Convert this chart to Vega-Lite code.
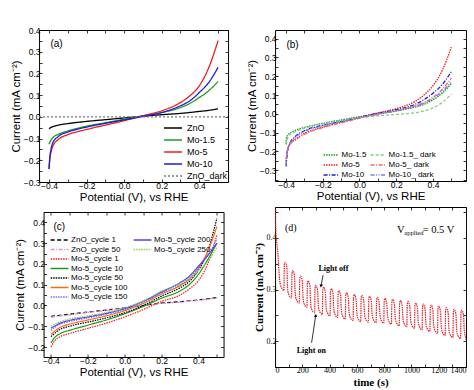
{
"$schema":"https://vega.github.io/schema/vega-lite/v6.json",
"padding":{"left":9,"top":25,"right":0,"bottom":0},
"background":"white",
"config":{
 "view":{"stroke":"#000","strokeWidth":1},
 "axis":{"domain":false,"grid":false,"tickSize":-3,"tickColor":"#000","tickWidth":0.8,"labelFont":"Liberation Sans","labelFontSize":8.5,"labelColor":"#000","labelPadding":2,"titleFont":"Liberation Sans","titleFontSize":11.5,"titleFontWeight":"normal","titleColor":"#000","titlePadding":2,"labelOverlap":false,"minExtent":0},
 "legend":{"orient":"none","title":null,"symbolType":"M-1.8,0H1.8","symbolSize":100,"symbolStrokeWidth":1.4,"labelFont":"Liberation Sans","labelFontSize":9,"labelColor":"#000","rowPadding":1,"labelOffset":8,"direction":"vertical","padding":0}
},
"resolve":{"scale":{"color":"independent","strokeDash":"independent"},"legend":{"color":"independent","strokeDash":"independent"}},
"datasets":{
 "a":[
  {"s":"ZnO","x":-0.4,"y":-0.054},{"s":"ZnO","x":-0.38,"y":-0.045},{"s":"ZnO","x":-0.35,"y":-0.038},{"s":"ZnO","x":-0.3,"y":-0.031},{"s":"ZnO","x":-0.2,"y":-0.021},{"s":"ZnO","x":-0.1,"y":-0.013},{"s":"ZnO","x":0,"y":-0.005},{"s":"ZnO","x":0.1,"y":0.003},{"s":"ZnO","x":0.2,"y":0.01},{"s":"ZnO","x":0.3,"y":0.016},{"s":"ZnO","x":0.4,"y":0.025},{"s":"ZnO","x":0.45,"y":0.03},{"s":"ZnO","x":0.5,"y":0.037},
  {"s":"Mo-1.5","x":-0.4,"y":-0.126},{"s":"Mo-1.5","x":-0.39,"y":-0.108},{"s":"Mo-1.5","x":-0.38,"y":-0.096},{"s":"Mo-1.5","x":-0.35,"y":-0.08},{"s":"Mo-1.5","x":-0.3,"y":-0.065},{"s":"Mo-1.5","x":-0.2,"y":-0.043},{"s":"Mo-1.5","x":-0.1,"y":-0.027},{"s":"Mo-1.5","x":0,"y":-0.011},{"s":"Mo-1.5","x":0.1,"y":0.005},{"s":"Mo-1.5","x":0.2,"y":0.02},{"s":"Mo-1.5","x":0.3,"y":0.043},{"s":"Mo-1.5","x":0.35,"y":0.062},{"s":"Mo-1.5","x":0.4,"y":0.089},{"s":"Mo-1.5","x":0.45,"y":0.12},{"s":"Mo-1.5","x":0.5,"y":0.163},
  {"s":"Mo-5","x":-0.4,"y":-0.24},{"s":"Mo-5","x":-0.395,"y":-0.19},{"s":"Mo-5","x":-0.39,"y":-0.165},{"s":"Mo-5","x":-0.38,"y":-0.136},{"s":"Mo-5","x":-0.35,"y":-0.104},{"s":"Mo-5","x":-0.3,"y":-0.082},{"s":"Mo-5","x":-0.2,"y":-0.058},{"s":"Mo-5","x":-0.1,"y":-0.038},{"s":"Mo-5","x":0,"y":-0.018},{"s":"Mo-5","x":0.1,"y":0.005},{"s":"Mo-5","x":0.2,"y":0.028},{"s":"Mo-5","x":0.3,"y":0.066},{"s":"Mo-5","x":0.35,"y":0.097},{"s":"Mo-5","x":0.4,"y":0.143},{"s":"Mo-5","x":0.45,"y":0.226},{"s":"Mo-5","x":0.5,"y":0.351},
  {"s":"Mo-10","x":-0.4,"y":-0.24},{"s":"Mo-10","x":-0.395,"y":-0.18},{"s":"Mo-10","x":-0.39,"y":-0.152},{"s":"Mo-10","x":-0.38,"y":-0.12},{"s":"Mo-10","x":-0.35,"y":-0.09},{"s":"Mo-10","x":-0.3,"y":-0.07},{"s":"Mo-10","x":-0.2,"y":-0.047},{"s":"Mo-10","x":-0.1,"y":-0.03},{"s":"Mo-10","x":0,"y":-0.014},{"s":"Mo-10","x":0.1,"y":0.002},{"s":"Mo-10","x":0.2,"y":0.02},{"s":"Mo-10","x":0.3,"y":0.051},{"s":"Mo-10","x":0.35,"y":0.074},{"s":"Mo-10","x":0.4,"y":0.112},{"s":"Mo-10","x":0.45,"y":0.158},{"s":"Mo-10","x":0.5,"y":0.228},
  {"s":"ZnO_dark","x":-0.453,"y":0},{"s":"ZnO_dark","x":0.553,"y":0}
 ],
 "b":[
  {"s":"Mo-1.5","x":-0.4,"y":-0.16},{"s":"Mo-1.5","x":-0.398,"y":-0.13},{"s":"Mo-1.5","x":-0.39,"y":-0.112},{"s":"Mo-1.5","x":-0.38,"y":-0.103},{"s":"Mo-1.5","x":-0.35,"y":-0.088},{"s":"Mo-1.5","x":-0.3,"y":-0.072},{"s":"Mo-1.5","x":-0.2,"y":-0.05},{"s":"Mo-1.5","x":-0.1,"y":-0.032},{"s":"Mo-1.5","x":0,"y":-0.015},{"s":"Mo-1.5","x":0.1,"y":0},{"s":"Mo-1.5","x":0.2,"y":0.015},{"s":"Mo-1.5","x":0.3,"y":0.035},{"s":"Mo-1.5","x":0.35,"y":0.05},{"s":"Mo-1.5","x":0.4,"y":0.075},{"s":"Mo-1.5","x":0.45,"y":0.11},{"s":"Mo-1.5","x":0.5,"y":0.16},
  {"s":"Mo-5","x":-0.4,"y":-0.255},{"s":"Mo-5","x":-0.395,"y":-0.205},{"s":"Mo-5","x":-0.39,"y":-0.18},{"s":"Mo-5","x":-0.38,"y":-0.162},{"s":"Mo-5","x":-0.35,"y":-0.135},{"s":"Mo-5","x":-0.3,"y":-0.105},{"s":"Mo-5","x":-0.2,"y":-0.07},{"s":"Mo-5","x":-0.1,"y":-0.045},{"s":"Mo-5","x":0,"y":-0.02},{"s":"Mo-5","x":0.1,"y":0.005},{"s":"Mo-5","x":0.2,"y":0.028},{"s":"Mo-5","x":0.3,"y":0.065},{"s":"Mo-5","x":0.35,"y":0.1},{"s":"Mo-5","x":0.4,"y":0.15},{"s":"Mo-5","x":0.45,"y":0.23},{"s":"Mo-5","x":0.5,"y":0.355},
  {"s":"Mo-10","x":-0.4,"y":-0.28},{"s":"Mo-10","x":-0.395,"y":-0.225},{"s":"Mo-10","x":-0.39,"y":-0.19},{"s":"Mo-10","x":-0.38,"y":-0.16},{"s":"Mo-10","x":-0.35,"y":-0.12},{"s":"Mo-10","x":-0.3,"y":-0.09},{"s":"Mo-10","x":-0.2,"y":-0.06},{"s":"Mo-10","x":-0.1,"y":-0.04},{"s":"Mo-10","x":0,"y":-0.018},{"s":"Mo-10","x":0.1,"y":0.003},{"s":"Mo-10","x":0.2,"y":0.022},{"s":"Mo-10","x":0.3,"y":0.05},{"s":"Mo-10","x":0.35,"y":0.075},{"s":"Mo-10","x":0.4,"y":0.11},{"s":"Mo-10","x":0.45,"y":0.155},{"s":"Mo-10","x":0.5,"y":0.225},
  {"s":"Mo-1.5_ dark","x":-0.4,"y":-0.165},{"s":"Mo-1.5_ dark","x":-0.39,"y":-0.125},{"s":"Mo-1.5_ dark","x":-0.38,"y":-0.11},{"s":"Mo-1.5_ dark","x":-0.35,"y":-0.095},{"s":"Mo-1.5_ dark","x":-0.3,"y":-0.077},{"s":"Mo-1.5_ dark","x":-0.2,"y":-0.053},{"s":"Mo-1.5_ dark","x":-0.1,"y":-0.036},{"s":"Mo-1.5_ dark","x":0,"y":-0.02},{"s":"Mo-1.5_ dark","x":0.1,"y":-0.01},{"s":"Mo-1.5_ dark","x":0.2,"y":-0.003},{"s":"Mo-1.5_ dark","x":0.3,"y":0.006},{"s":"Mo-1.5_ dark","x":0.35,"y":0.015},{"s":"Mo-1.5_ dark","x":0.4,"y":0.032},{"s":"Mo-1.5_ dark","x":0.45,"y":0.06},{"s":"Mo-1.5_ dark","x":0.5,"y":0.105},
  {"s":"Mo-5_ dark","x":-0.4,"y":-0.24},{"s":"Mo-5_ dark","x":-0.39,"y":-0.185},{"s":"Mo-5_ dark","x":-0.38,"y":-0.165},{"s":"Mo-5_ dark","x":-0.35,"y":-0.14},{"s":"Mo-5_ dark","x":-0.3,"y":-0.108},{"s":"Mo-5_ dark","x":-0.2,"y":-0.073},{"s":"Mo-5_ dark","x":-0.1,"y":-0.048},{"s":"Mo-5_ dark","x":0,"y":-0.024},{"s":"Mo-5_ dark","x":0.1,"y":-0.002},{"s":"Mo-5_ dark","x":0.2,"y":0.017},{"s":"Mo-5_ dark","x":0.3,"y":0.042},{"s":"Mo-5_ dark","x":0.35,"y":0.06},{"s":"Mo-5_ dark","x":0.4,"y":0.088},{"s":"Mo-5_ dark","x":0.45,"y":0.13},{"s":"Mo-5_ dark","x":0.5,"y":0.19},
  {"s":"Mo-10_ dark","x":-0.4,"y":-0.27},{"s":"Mo-10_ dark","x":-0.395,"y":-0.21},{"s":"Mo-10_ dark","x":-0.39,"y":-0.18},{"s":"Mo-10_ dark","x":-0.38,"y":-0.158},{"s":"Mo-10_ dark","x":-0.35,"y":-0.125},{"s":"Mo-10_ dark","x":-0.3,"y":-0.094},{"s":"Mo-10_ dark","x":-0.2,"y":-0.063},{"s":"Mo-10_ dark","x":-0.1,"y":-0.041},{"s":"Mo-10_ dark","x":0,"y":-0.02},{"s":"Mo-10_ dark","x":0.1,"y":0},{"s":"Mo-10_ dark","x":0.2,"y":0.017},{"s":"Mo-10_ dark","x":0.3,"y":0.04},{"s":"Mo-10_ dark","x":0.35,"y":0.057},{"s":"Mo-10_ dark","x":0.4,"y":0.083},{"s":"Mo-10_ dark","x":0.45,"y":0.12},{"s":"Mo-10_ dark","x":0.5,"y":0.17}
 ],
 "c":[
  {"s":"ZnO_cycle 1","x":-0.4,"y":-0.052},{"s":"ZnO_cycle 1","x":-0.3,"y":-0.042},{"s":"ZnO_cycle 1","x":-0.2,"y":-0.032},{"s":"ZnO_cycle 1","x":-0.1,"y":-0.022},{"s":"ZnO_cycle 1","x":0,"y":-0.011},{"s":"ZnO_cycle 1","x":0.1,"y":0},{"s":"ZnO_cycle 1","x":0.2,"y":0.012},{"s":"ZnO_cycle 1","x":0.3,"y":0.018},{"s":"ZnO_cycle 1","x":0.4,"y":0.027},{"s":"ZnO_cycle 1","x":0.5,"y":0.038},
  {"s":"ZnO_cycle 50","x":-0.4,"y":-0.056},{"s":"ZnO_cycle 50","x":-0.3,"y":-0.045},{"s":"ZnO_cycle 50","x":-0.2,"y":-0.034},{"s":"ZnO_cycle 50","x":-0.1,"y":-0.024},{"s":"ZnO_cycle 50","x":0,"y":-0.013},{"s":"ZnO_cycle 50","x":0.1,"y":-0.002},{"s":"ZnO_cycle 50","x":0.2,"y":0.01},{"s":"ZnO_cycle 50","x":0.3,"y":0.016},{"s":"ZnO_cycle 50","x":0.4,"y":0.025},{"s":"ZnO_cycle 50","x":0.5,"y":0.036},
  {"s":"Mo-5_cycle 1","x":-0.4,"y":-0.2},{"s":"Mo-5_cycle 1","x":-0.38,"y":-0.17},{"s":"Mo-5_cycle 1","x":-0.35,"y":-0.15},{"s":"Mo-5_cycle 1","x":-0.3,"y":-0.135},{"s":"Mo-5_cycle 1","x":-0.2,"y":-0.11},{"s":"Mo-5_cycle 1","x":-0.1,"y":-0.085},{"s":"Mo-5_cycle 1","x":0,"y":-0.055},{"s":"Mo-5_cycle 1","x":0.1,"y":-0.02},{"s":"Mo-5_cycle 1","x":0.2,"y":0.02},{"s":"Mo-5_cycle 1","x":0.3,"y":0.05},{"s":"Mo-5_cycle 1","x":0.35,"y":0.08},{"s":"Mo-5_cycle 1","x":0.4,"y":0.12},{"s":"Mo-5_cycle 1","x":0.45,"y":0.2},{"s":"Mo-5_cycle 1","x":0.5,"y":0.34},
  {"s":"Mo-5_cycle 10","x":-0.4,"y":-0.18},{"s":"Mo-5_cycle 10","x":-0.38,"y":-0.155},{"s":"Mo-5_cycle 10","x":-0.35,"y":-0.135},{"s":"Mo-5_cycle 10","x":-0.3,"y":-0.12},{"s":"Mo-5_cycle 10","x":-0.2,"y":-0.095},{"s":"Mo-5_cycle 10","x":-0.1,"y":-0.07},{"s":"Mo-5_cycle 10","x":0,"y":-0.04},{"s":"Mo-5_cycle 10","x":0.1,"y":-0.005},{"s":"Mo-5_cycle 10","x":0.2,"y":0.035},{"s":"Mo-5_cycle 10","x":0.3,"y":0.07},{"s":"Mo-5_cycle 10","x":0.35,"y":0.1},{"s":"Mo-5_cycle 10","x":0.4,"y":0.15},{"s":"Mo-5_cycle 10","x":0.45,"y":0.22},{"s":"Mo-5_cycle 10","x":0.5,"y":0.3},
  {"s":"Mo-5_cycle 50","x":-0.4,"y":-0.15},{"s":"Mo-5_cycle 50","x":-0.35,"y":-0.115},{"s":"Mo-5_cycle 50","x":-0.3,"y":-0.1},{"s":"Mo-5_cycle 50","x":-0.2,"y":-0.08},{"s":"Mo-5_cycle 50","x":-0.1,"y":-0.06},{"s":"Mo-5_cycle 50","x":0,"y":-0.035},{"s":"Mo-5_cycle 50","x":0.1,"y":0},{"s":"Mo-5_cycle 50","x":0.2,"y":0.045},{"s":"Mo-5_cycle 50","x":0.3,"y":0.085},{"s":"Mo-5_cycle 50","x":0.35,"y":0.115},{"s":"Mo-5_cycle 50","x":0.4,"y":0.17},{"s":"Mo-5_cycle 50","x":0.45,"y":0.26},{"s":"Mo-5_cycle 50","x":0.5,"y":0.42},
  {"s":"Mo-5_cycle 100","x":-0.4,"y":-0.14},{"s":"Mo-5_cycle 100","x":-0.35,"y":-0.105},{"s":"Mo-5_cycle 100","x":-0.3,"y":-0.09},{"s":"Mo-5_cycle 100","x":-0.2,"y":-0.07},{"s":"Mo-5_cycle 100","x":-0.1,"y":-0.05},{"s":"Mo-5_cycle 100","x":0,"y":-0.025},{"s":"Mo-5_cycle 100","x":0.1,"y":0.01},{"s":"Mo-5_cycle 100","x":0.2,"y":0.055},{"s":"Mo-5_cycle 100","x":0.3,"y":0.095},{"s":"Mo-5_cycle 100","x":0.35,"y":0.125},{"s":"Mo-5_cycle 100","x":0.4,"y":0.18},{"s":"Mo-5_cycle 100","x":0.45,"y":0.26},{"s":"Mo-5_cycle 100","x":0.5,"y":0.38},
  {"s":"Mo-5_cycle 150","x":-0.4,"y":-0.12},{"s":"Mo-5_cycle 150","x":-0.35,"y":-0.09},{"s":"Mo-5_cycle 150","x":-0.3,"y":-0.078},{"s":"Mo-5_cycle 150","x":-0.2,"y":-0.06},{"s":"Mo-5_cycle 150","x":-0.1,"y":-0.042},{"s":"Mo-5_cycle 150","x":0,"y":-0.02},{"s":"Mo-5_cycle 150","x":0.1,"y":0.015},{"s":"Mo-5_cycle 150","x":0.2,"y":0.06},{"s":"Mo-5_cycle 150","x":0.3,"y":0.1},{"s":"Mo-5_cycle 150","x":0.35,"y":0.13},{"s":"Mo-5_cycle 150","x":0.4,"y":0.18},{"s":"Mo-5_cycle 150","x":0.45,"y":0.24},{"s":"Mo-5_cycle 150","x":0.5,"y":0.32},
  {"s":"Mo-5_cycle 200","x":-0.4,"y":-0.11},{"s":"Mo-5_cycle 200","x":-0.35,"y":-0.085},{"s":"Mo-5_cycle 200","x":-0.3,"y":-0.072},{"s":"Mo-5_cycle 200","x":-0.2,"y":-0.055},{"s":"Mo-5_cycle 200","x":-0.1,"y":-0.038},{"s":"Mo-5_cycle 200","x":0,"y":-0.015},{"s":"Mo-5_cycle 200","x":0.1,"y":0.02},{"s":"Mo-5_cycle 200","x":0.2,"y":0.065},{"s":"Mo-5_cycle 200","x":0.3,"y":0.11},{"s":"Mo-5_cycle 200","x":0.35,"y":0.14},{"s":"Mo-5_cycle 200","x":0.4,"y":0.19},{"s":"Mo-5_cycle 200","x":0.45,"y":0.24},{"s":"Mo-5_cycle 200","x":0.5,"y":0.3},
  {"s":"Mo-5_cycle 250","x":-0.4,"y":-0.1},{"s":"Mo-5_cycle 250","x":-0.35,"y":-0.078},{"s":"Mo-5_cycle 250","x":-0.3,"y":-0.065},{"s":"Mo-5_cycle 250","x":-0.2,"y":-0.05},{"s":"Mo-5_cycle 250","x":-0.1,"y":-0.033},{"s":"Mo-5_cycle 250","x":0,"y":-0.01},{"s":"Mo-5_cycle 250","x":0.1,"y":0.022},{"s":"Mo-5_cycle 250","x":0.2,"y":0.07},{"s":"Mo-5_cycle 250","x":0.3,"y":0.105},{"s":"Mo-5_cycle 250","x":0.35,"y":0.13},{"s":"Mo-5_cycle 250","x":0.4,"y":0.17},{"s":"Mo-5_cycle 250","x":0.45,"y":0.21},{"s":"Mo-5_cycle 250","x":0.5,"y":0.28}
 ],
 "d":[
  {"t":0,"v":0.455},{"t":3,"v":0.43},{"t":7,"v":0.405},{"t":12,"v":0.392},{"t":20,"v":0.372},{"t":27,"v":0.343},{"t":33,"v":0.32},{"t":40,"v":0.309},{"t":50,"v":0.302},{"t":65,"v":0.298},
  {"t":68,"v":0.347},{"t":73,"v":0.353},{"t":87,"v":0.343},{"t":91,"v":0.306},{"t":98,"v":0.292},{"t":121,"v":0.284},
  {"t":124,"v":0.331},{"t":129,"v":0.337},{"t":143,"v":0.327},{"t":147,"v":0.296},{"t":154,"v":0.282},{"t":178,"v":0.274},
  {"t":181,"v":0.32},{"t":186,"v":0.326},{"t":200,"v":0.316},{"t":204,"v":0.288},{"t":211,"v":0.274},{"t":234,"v":0.266},
  {"t":237,"v":0.311},{"t":242,"v":0.317},{"t":256,"v":0.307},{"t":260,"v":0.277},{"t":267,"v":0.263},{"t":290,"v":0.255},
  {"t":293,"v":0.302},{"t":298,"v":0.308},{"t":312,"v":0.298},{"t":316,"v":0.274},{"t":323,"v":0.26},{"t":347,"v":0.252},
  {"t":350,"v":0.299},{"t":355,"v":0.305},{"t":369,"v":0.295},{"t":373,"v":0.271},{"t":380,"v":0.257},{"t":403,"v":0.249},
  {"t":406,"v":0.296},{"t":411,"v":0.302},{"t":425,"v":0.292},{"t":429,"v":0.268},{"t":436,"v":0.254},{"t":459,"v":0.246},
  {"t":462,"v":0.292},{"t":467,"v":0.298},{"t":481,"v":0.288},{"t":485,"v":0.265},{"t":492,"v":0.251},{"t":515,"v":0.243},
  {"t":518,"v":0.288},{"t":523,"v":0.294},{"t":537,"v":0.284},{"t":541,"v":0.262},{"t":548,"v":0.248},{"t":572,"v":0.24},
  {"t":575,"v":0.285},{"t":580,"v":0.291},{"t":594,"v":0.281},{"t":598,"v":0.26},{"t":605,"v":0.246},{"t":628,"v":0.238},
  {"t":631,"v":0.283},{"t":636,"v":0.289},{"t":650,"v":0.279},{"t":654,"v":0.259},{"t":661,"v":0.245},{"t":684,"v":0.237},
  {"t":687,"v":0.281},{"t":692,"v":0.287},{"t":706,"v":0.277},{"t":710,"v":0.258},{"t":717,"v":0.244},{"t":741,"v":0.236},
  {"t":744,"v":0.279},{"t":749,"v":0.285},{"t":763,"v":0.275},{"t":767,"v":0.257},{"t":774,"v":0.243},{"t":797,"v":0.235},
  {"t":800,"v":0.277},{"t":805,"v":0.283},{"t":819,"v":0.273},{"t":823,"v":0.255},{"t":830,"v":0.241},{"t":853,"v":0.233},
  {"t":856,"v":0.275},{"t":861,"v":0.281},{"t":875,"v":0.271},{"t":879,"v":0.252},{"t":886,"v":0.238},{"t":910,"v":0.23},
  {"t":913,"v":0.273},{"t":918,"v":0.279},{"t":932,"v":0.269},{"t":936,"v":0.25},{"t":943,"v":0.236},{"t":966,"v":0.228},
  {"t":969,"v":0.271},{"t":974,"v":0.277},{"t":988,"v":0.267},{"t":992,"v":0.247},{"t":999,"v":0.233},{"t":1022,"v":0.225},
  {"t":1025,"v":0.268},{"t":1030,"v":0.274},{"t":1044,"v":0.264},{"t":1048,"v":0.244},{"t":1055,"v":0.23},{"t":1078,"v":0.222},
  {"t":1081,"v":0.266},{"t":1086,"v":0.272},{"t":1100,"v":0.262},{"t":1104,"v":0.241},{"t":1111,"v":0.227},{"t":1135,"v":0.219},
  {"t":1138,"v":0.264},{"t":1143,"v":0.27},{"t":1157,"v":0.26},{"t":1161,"v":0.237},{"t":1168,"v":0.223},{"t":1191,"v":0.215},
  {"t":1194,"v":0.262},{"t":1199,"v":0.268},{"t":1213,"v":0.258},{"t":1217,"v":0.233},{"t":1224,"v":0.219},{"t":1247,"v":0.211},
  {"t":1250,"v":0.259},{"t":1255,"v":0.265},{"t":1269,"v":0.255},{"t":1273,"v":0.229},{"t":1280,"v":0.215},{"t":1304,"v":0.207},
  {"t":1307,"v":0.256},{"t":1312,"v":0.262},{"t":1326,"v":0.252},{"t":1330,"v":0.227},{"t":1337,"v":0.213},{"t":1360,"v":0.205},
  {"t":1363,"v":0.254},{"t":1368,"v":0.26},{"t":1382,"v":0.25},{"t":1386,"v":0.225},{"t":1393,"v":0.211},{"t":1400,"v":0.203}
 ],
 "lab":[{"p":"a","x":-0.36,"y":0.335,"label":"(a)"},{"p":"b","x":-0.365,"y":0.364,"label":"(b)"},{"p":"c","x":-0.355,"y":0.379,"label":"(c)"},{"p":"d","x":115,"y":0.42,"label":"(d)"}],
 "dann":[{"k":"V","x":893,"y":0.415,"label":"V"},{"k":"sub","x":947,"y":0.409,"label":"applied"},{"k":"eq","x":1082,"y":0.415,"label":"= 0.5 V"},{"k":"lt","x":428,"y":0.339,"label":"Light off"},{"k":"lt","x":266,"y":0.181,"label":"Light on"}],
 "arr":[{"k":"off","x":352,"y":0.328,"x2":337,"y2":0.307},{"k":"on","x":268,"y":0.197,"x2":298,"y2":0.25}]
},
"hconcat":[
 {"vconcat":[
  {"width":189,"height":152,
   "layer":[
    {"data":{"name":"a"},"mark":{"type":"line","strokeWidth":1.3,"clip":true,"interpolate":"monotone"},
     "encoding":{
      "x":{"field":"x","type":"quantitative","scale":{"domain":[-0.453,0.553],"nice":false,"zero":false},"axis":{"orient":"bottom","values":[-0.4,-0.3,-0.2,-0.1,0,0.1,0.2,0.3,0.4,0.5],"format":".1f","labelExpr":"abs(datum.value*5-round(datum.value*5))<0.001 ? datum.label : ''","title":"Potential (V), vs RHE"}},
      "y":{"field":"y","type":"quantitative","scale":{"domain":[-0.3,0.4],"nice":false,"zero":false},"axis":{"orient":"left","values":[-0.3,-0.25,-0.2,-0.15,-0.1,-0.05,0,0.05,0.1,0.15,0.2,0.25,0.3,0.35,0.4],"format":".1f","labelExpr":"abs(datum.value*10-round(datum.value*10))<0.001 ? datum.label : ''","title":"Current (mA cm⁻²)"}},
      "color":{"field":"s","type":"nominal","scale":{"domain":["ZnO","Mo-1.5","Mo-5","Mo-10","ZnO_dark"],"range":["#000000","#1a9e1a","#ee1c24","#1c1cdc","#777777"]},"legend":{"legendX":128,"legendY":92}},
      "strokeDash":{"field":"s","type":"nominal","scale":{"domain":["ZnO","Mo-1.5","Mo-5","Mo-10","ZnO_dark"],"range":[[1,0],[1,0],[1,0],[1,0],[2,2]]}}
     }},
    {"data":{"name":"lab"},"transform":[{"filter":"datum.p=='a'"}],"mark":{"type":"text","font":"Liberation Sans","fontSize":10,"color":"#000"},
     "encoding":{
      "x":{"field":"x","type":"quantitative","scale":{"domain":[-0.453,0.553],"nice":false,"zero":false},"axis":{"orient":"top","values":[-0.4,-0.3,-0.2,-0.1,0,0.1,0.2,0.3,0.4,0.5],"labels":false,"title":null}},
      "y":{"field":"y","type":"quantitative","scale":{"domain":[-0.3,0.4],"nice":false,"zero":false},"axis":{"orient":"right","values":[-0.3,-0.25,-0.2,-0.15,-0.1,-0.05,0,0.05,0.1,0.15,0.2,0.25,0.3,0.35,0.4],"labels":false,"title":null}},
      "text":{"field":"label"}
     }}
   ],
   "resolve":{"axis":{"x":"independent","y":"independent"}}
  },
  {"width":180,"height":145,
   "layer":[
    {"data":{"name":"c"},"mark":{"type":"line","strokeWidth":1.2,"clip":true,"interpolate":"monotone"},
     "encoding":{
      "x":{"field":"x","type":"quantitative","scale":{"domain":[-0.44,0.536],"nice":false,"zero":false},"axis":{"orient":"bottom","values":[-0.4,-0.3,-0.2,-0.1,0,0.1,0.2,0.3,0.4,0.5],"format":".1f","labelExpr":"abs(datum.value*5-round(datum.value*5))<0.001 ? datum.label : ''","title":"Potential (V), vs RHE"}},
      "y":{"field":"y","type":"quantitative","scale":{"domain":[-0.248,0.45],"nice":false,"zero":false},"axis":{"orient":"left","values":[-0.2,-0.15,-0.1,-0.05,0,0.05,0.1,0.15,0.2,0.25,0.3,0.35,0.4,0.45],"format":".1f","labelExpr":"abs(datum.value*10-round(datum.value*10))<0.001 ? datum.label : ''","title":"Current (mA cm⁻²)"}},
      "color":{"field":"s","type":"nominal","scale":{"domain":["ZnO_cycle 1","ZnO_cycle 50","Mo-5_cycle 1","Mo-5_cycle 10","Mo-5_cycle 50","Mo-5_cycle 100","Mo-5_cycle 150","Mo-5_cycle 200","Mo-5_cycle 250","blank1","blank2","blank3","blank4","blank5"],"range":["#000000","#e58fd0","#ee1c24","#1a9e1a","#000000","#ff6a10","#6f6fff","#5a3cf0","#8bd84a","transparent","transparent","transparent","transparent","transparent"]},"legend":{"legendX":11,"legendY":23,"columns":2,"labelFontSize":8,"symbolSize":72,"symbolType":"M-2.1,0H2.1","labelOffset":6.5,"columnPadding":3,"rowPadding":0.5,"labelExpr":"indexof(datum.label,'blank')==0 ? '' : datum.label"}},
      "strokeDash":{"field":"s","type":"nominal","scale":{"domain":["ZnO_cycle 1","ZnO_cycle 50","Mo-5_cycle 1","Mo-5_cycle 10","Mo-5_cycle 50","Mo-5_cycle 100","Mo-5_cycle 150","Mo-5_cycle 200","Mo-5_cycle 250","blank1","blank2","blank3","blank4","blank5"],"range":[[4,2.5],[4,1.5,1,1.5],[1.5,1],[1,0],[1.5,1],[1,0],[1.5,1],[1,0],[1.5,1],[1,0],[1,0],[1,0],[1,0],[1,0]]}}
     }},
    {"data":{"name":"lab"},"transform":[{"filter":"datum.p=='c'"}],"mark":{"type":"text","font":"Liberation Sans","fontSize":10,"color":"#000"},
     "encoding":{
      "x":{"field":"x","type":"quantitative","scale":{"domain":[-0.44,0.536],"nice":false,"zero":false},"axis":{"orient":"top","values":[-0.4,-0.3,-0.2,-0.1,0,0.1,0.2,0.3,0.4,0.5],"labels":false,"title":null}},
      "y":{"field":"y","type":"quantitative","scale":{"domain":[-0.248,0.45],"nice":false,"zero":false},"axis":{"orient":"right","values":[-0.2,-0.15,-0.1,-0.05,0,0.05,0.1,0.15,0.2,0.25,0.3,0.35,0.4,0.45],"labels":false,"title":null}},
      "text":{"field":"label"}
     }}
   ],
   "resolve":{"axis":{"x":"independent","y":"independent"}}
  }
 ],"spacing":3,"center":true,"resolve":{"scale":{"color":"independent","strokeDash":"independent"},"legend":{"color":"independent","strokeDash":"independent"}}},
 {"vconcat":[
  {"width":191,"height":151,
   "layer":[
    {"data":{"name":"b"},"mark":{"type":"line","strokeWidth":1.3,"clip":true,"interpolate":"monotone"},
     "encoding":{
      "x":{"field":"x","type":"quantitative","scale":{"domain":[-0.46,0.58],"nice":false,"zero":false},"axis":{"orient":"bottom","values":[-0.4,-0.3,-0.2,-0.1,0,0.1,0.2,0.3,0.4,0.5],"format":".1f","labelExpr":"abs(datum.value*5-round(datum.value*5))<0.001 ? datum.label : ''","title":"Potential (V), vs RHE"}},
      "y":{"field":"y","type":"quantitative","scale":{"domain":[-0.357,0.446],"nice":false,"zero":false},"axis":{"orient":"left","values":[-0.35,-0.3,-0.25,-0.2,-0.15,-0.1,-0.05,0,0.05,0.1,0.15,0.2,0.25,0.3,0.35,0.4,0.45],"format":".1f","labelExpr":"abs(datum.value*10-round(datum.value*10))<0.001 ? datum.label : ''","title":"Current (mA cm⁻²)"}},
      "color":{"field":"s","type":"nominal","scale":{"domain":["Mo-1.5","Mo-5","Mo-10","Mo-1.5_ dark","Mo-5_ dark","Mo-10_ dark"],"range":["#1a9e1a","#ee1c24","#1c1cdc","#7fcf7f","#f06a6a","#7a7aee"]},"legend":{"legendX":51,"legendY":120,"columns":2,"labelFontSize":8,"symbolSize":72,"symbolType":"M-1.76,0H1.76","labelOffset":5.5,"columnPadding":0}},
      "strokeDash":{"field":"s","type":"nominal","scale":{"domain":["Mo-1.5","Mo-5","Mo-10","Mo-1.5_ dark","Mo-5_ dark","Mo-10_ dark"],"range":[[1.5,1],[1.5,1],[4,1.5,1,1.5],[3,2],[4,1.5,1,1.5],[4,1.5,1,1.5,1,1.5]]}}
     }},
    {"data":{"name":"lab"},"transform":[{"filter":"datum.p=='b'"}],"mark":{"type":"text","font":"Liberation Sans","fontSize":10,"color":"#000"},
     "encoding":{
      "x":{"field":"x","type":"quantitative","scale":{"domain":[-0.46,0.58],"nice":false,"zero":false},"axis":{"orient":"top","values":[-0.4,-0.3,-0.2,-0.1,0,0.1,0.2,0.3,0.4,0.5],"labels":false,"title":null}},
      "y":{"field":"y","type":"quantitative","scale":{"domain":[-0.357,0.446],"nice":false,"zero":false},"axis":{"orient":"right","values":[-0.35,-0.3,-0.25,-0.2,-0.15,-0.1,-0.05,0,0.05,0.1,0.15,0.2,0.25,0.3,0.35,0.4,0.45],"labels":false,"title":null}},
      "text":{"field":"label"}
     }}
   ],
   "resolve":{"axis":{"x":"independent","y":"independent"}}
  },
  {"width":191,"height":160,
   "layer":[
    {"data":{"name":"d"},"mark":{"type":"line","strokeWidth":1.2,"color":"#e8202a","strokeDash":[1.5,0.8],"clip":true,"interpolate":"monotone"},
     "encoding":{
      "x":{"field":"t","type":"quantitative","scale":{"domain":[0,1400],"nice":false,"zero":false},"axis":{"orient":"bottom","values":[0,100,200,300,400,500,600,700,800,900,1000,1100,1200,1300,1400],"format":"d","labelExpr":"datum.value % 200 == 0 ? datum.label : ''","labelFont":"Liberation Serif","titleFont":"Liberation Serif","titleFontWeight":"bold","titleFontSize":11,"labelFontSize":8,"title":"time (s)"}},
      "y":{"field":"v","type":"quantitative","scale":{"domain":[0.15,0.46],"nice":false,"zero":false},"axis":{"orient":"left","values":[0.15,0.2,0.25,0.3,0.35,0.4,0.45],"format":".1f","labelExpr":"abs(datum.value*10-round(datum.value*10))<0.001 ? datum.label : ''","labelFont":"Liberation Serif","titleFont":"Liberation Serif","titleFontWeight":"bold","titleFontSize":11,"labelFontSize":8,"title":"Current (mA cm⁻²)"}}
     }},
    {"data":{"name":"lab"},"transform":[{"filter":"datum.p=='d'"}],"mark":{"type":"text","font":"Liberation Serif","fontSize":10,"color":"#000"},
     "encoding":{
      "x":{"field":"x","type":"quantitative","scale":{"domain":[0,1400],"nice":false,"zero":false},"axis":{"orient":"top","values":[0,100,200,300,400,500,600,700,800,900,1000,1100,1200,1300,1400],"labels":false,"title":null}},
      "y":{"field":"y","type":"quantitative","scale":{"domain":[0.15,0.46],"nice":false,"zero":false},"axis":{"orient":"right","values":[0.15,0.2,0.25,0.3,0.35,0.4,0.45],"labels":false,"title":null}},
      "text":{"field":"label"}
     }},
    {"data":{"name":"dann"},"transform":[{"filter":"datum.k=='V' || datum.k=='eq'"}],"mark":{"type":"text","font":"Liberation Serif","fontSize":10.5,"align":"left","color":"#000"},
     "encoding":{"x":{"field":"x","type":"quantitative","axis":null},"y":{"field":"y","type":"quantitative","axis":null},"text":{"field":"label"}}},
    {"data":{"name":"dann"},"transform":[{"filter":"datum.k=='sub'"}],"mark":{"type":"text","font":"Liberation Serif","fontSize":6.5,"align":"left","color":"#000"},
     "encoding":{"x":{"field":"x","type":"quantitative","axis":null},"y":{"field":"y","type":"quantitative","axis":null},"text":{"field":"label"}}},
    {"data":{"name":"dann"},"transform":[{"filter":"datum.k=='lt'"}],"mark":{"type":"text","font":"Liberation Serif","fontSize":8,"fontWeight":"bold","color":"#000"},
     "encoding":{"x":{"field":"x","type":"quantitative","axis":null},"y":{"field":"y","type":"quantitative","axis":null},"text":{"field":"label"}}},
    {"data":{"name":"arr"},"mark":{"type":"rule","color":"#000","strokeWidth":0.8},
     "encoding":{"x":{"field":"x","type":"quantitative","axis":null},"y":{"field":"y","type":"quantitative","axis":null},"x2":{"field":"x2"},"y2":{"field":"y2"}}},
    {"data":{"name":"arr"},"transform":[{"filter":"datum.k=='off'"}],"mark":{"type":"point","shape":"triangle-up","filled":true,"color":"#000","size":12,"angle":190,"opacity":1},
     "encoding":{"x":{"field":"x2","type":"quantitative","axis":null},"y":{"field":"y2","type":"quantitative","axis":null}}},
    {"data":{"name":"arr"},"transform":[{"filter":"datum.k=='on'"}],"mark":{"type":"point","shape":"triangle-up","filled":true,"color":"#000","size":12,"angle":8,"opacity":1},
     "encoding":{"x":{"field":"x2","type":"quantitative","axis":null},"y":{"field":"y2","type":"quantitative","axis":null}}}
   ],
   "resolve":{"axis":{"x":"independent","y":"independent"}}
  }
 ],"spacing":3,"center":true,"resolve":{"scale":{"color":"independent","strokeDash":"independent"},"legend":{"color":"independent","strokeDash":"independent"}}}
],
"spacing":16
}
